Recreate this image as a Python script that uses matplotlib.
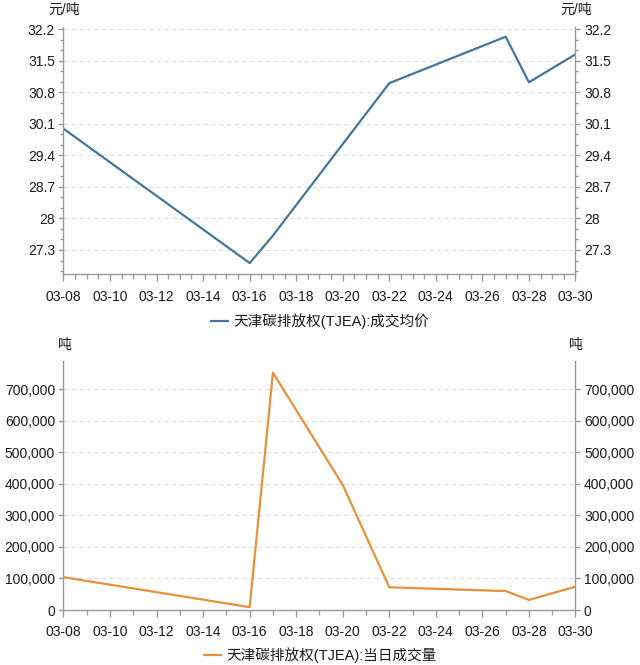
import matplotlib
matplotlib.use("Agg")
import matplotlib.pyplot as plt
import matplotlib.ticker as mticker
import numpy as np
import pandas as pd

plt.rcParams['font.family'] = ['Liberation Sans', 'Noto Sans CJK SC']

# Data
dates = pd.to_datetime(["2022-03-08", "2022-03-16", "2022-03-17", "2022-03-20",
                        "2022-03-22", "2022-03-27", "2022-03-28", "2022-03-30"])
price = [29.99, 27.01, 27.62, 29.65, 31.0, 32.03, 31.02, 31.64]
volume = [104000, 9000, 752000, 396000, 72000, 60000, 32000, 74000]

price_label = "天津碳排放权(TJEA):成交均价"
volume_label = "天津碳排放权(TJEA):当日成交量"
price_unit = "元/吨"
volume_unit = "吨"

price_ticks = [27.3, 28, 28.7, 29.4, 30.1, 30.8, 31.5, 32.2]
volume_ticks = [0, 100000, 200000, 300000, 400000, 500000, 600000, 700000]

blue = "#44769b"
orange = "#e8913b"
grey = "#999999"
text_col = "#1a1a1a"

fig = plt.figure(figsize=(6.4, 6.65), dpi=100)
ax1 = fig.add_axes([0.0992, 0.5875, 0.8, 0.3715])
ax2 = fig.add_axes([0.0992, 0.0827, 0.8, 0.3749])

x_major = pd.date_range("2022-03-08", "2022-03-30", freq="2D")


def style_axis(ax, minor_x):
    ax.set_xlim(dates[0], dates[-1])
    ax.set_xticks(x_major)
    ax.set_xticklabels([d.strftime("%m-%d") for d in x_major])
    ax.set_xticks(pd.date_range("2022-03-08", "2022-03-30", freq=minor_x), minor=True)
    ax.spines["top"].set_visible(False)
    for s in ["left", "right", "bottom"]:
        ax.spines[s].set_color(grey)
        ax.spines[s].set_linewidth(1.0)
    ax.tick_params(axis="y", which="major", left=True, right=True,
                   labelleft=True, labelright=True, length=3.6, width=1.0,
                   color=grey, labelcolor=text_col, labelsize=10, pad=2.5)
    ax.tick_params(axis="y", which="minor", left=True, right=True,
                   length=2.4, width=1.0, color=grey)
    ax.tick_params(axis="x", which="major", length=5, width=1.0, color=grey,
                   labelcolor=text_col, labelsize=10, pad=6)
    ax.tick_params(axis="x", which="minor", length=3.6, width=1.0, color=grey)
    ax.grid(axis="y", which="major", linestyle=(0, (4, 3)), color="#dddddd", linewidth=0.8)
    ax.set_axisbelow(True)


# Top chart: average price
ax1.plot(dates, price, color=blue, linewidth=1.6, label=price_label)
style_axis(ax1, "12h")
ax1.set_ylim(26.76, 32.24)
ax1.set_yticks(price_ticks)
ax1.yaxis.set_major_formatter(mticker.FormatStrFormatter("%g"))
ax1.yaxis.set_minor_locator(mticker.FixedLocator(np.round(np.arange(26.833, 32.25, 0.7 / 3), 3)))

# Bottom chart: daily volume
ax2.plot(dates, volume, color=orange, linewidth=1.6, label=volume_label)
style_axis(ax2, "D")
ax2.set_ylim(0, 790000)
ax2.set_yticks(volume_ticks)
ax2.yaxis.set_major_formatter(mticker.FuncFormatter(lambda v, p: f"{int(v):,}"))
ax2.yaxis.set_minor_locator(mticker.NullLocator())

# Unit labels
fig.text(64 / 640, 1 - 10 / 665, price_unit, ha="center", va="center", fontsize=10, color=text_col)
fig.text(576 / 640, 1 - 10 / 665, price_unit, ha="center", va="center", fontsize=10, color=text_col)
fig.text(65 / 640, 1 - 345 / 665, volume_unit, ha="center", va="center", fontsize=10, color=text_col)
fig.text(576 / 640, 1 - 345 / 665, volume_unit, ha="center", va="center", fontsize=10, color=text_col)

# Legends
for ax, ypix in [(ax1, 321), (ax2, 655)]:
    fig.legend(handles=ax.get_lines(), loc="center", bbox_to_anchor=(0.5, 1 - ypix / 665),
               frameon=False, fontsize=10.5, handlelength=1.2, handletextpad=0.35,
               labelcolor=text_col)

fig.savefig("out.png", dpi=100)
